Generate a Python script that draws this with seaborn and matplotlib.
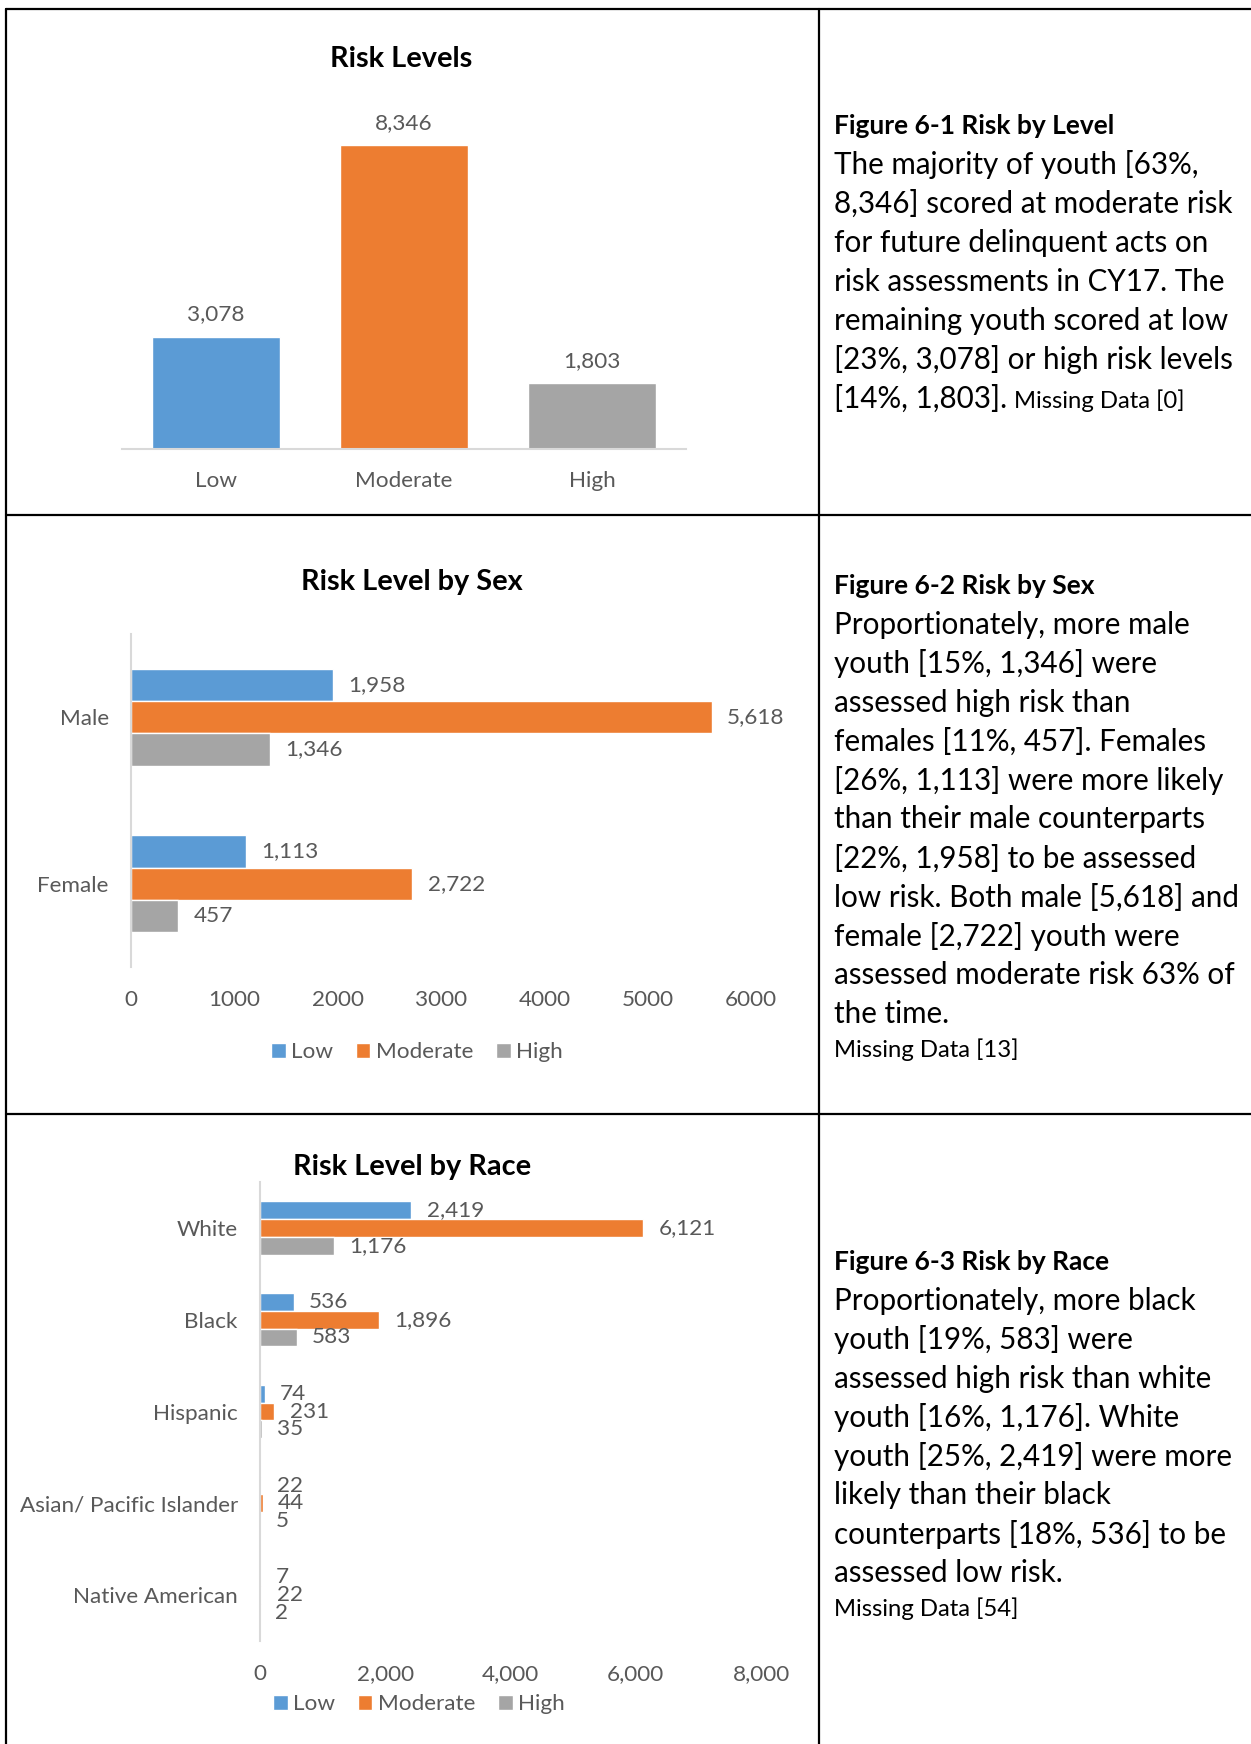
import matplotlib
matplotlib.use("Agg")
import matplotlib.pyplot as plt
from matplotlib.lines import Line2D
import seaborn as sns
import pandas as pd

# ---------------- data ----------------
levels = ["Low", "Moderate", "High"]
level_totals = [3078, 8346, 1803]

sex_groups = ["Male", "Female"]
sex_low = [1958, 1113]
sex_moderate = [5618, 2722]
sex_high = [1346, 457]

race_groups = ["White", "Black", "Hispanic", "Asian/ Pacific Islander", "Native American"]
race_low = [2419, 536, 74, 22, 7]
race_moderate = [6121, 1896, 231, 44, 22]
race_high = [1176, 583, 35, 5, 2]

sex_ticks = [0, 1000, 2000, 3000, 4000, 5000, 6000]
race_ticks = [0, 2000, 4000, 6000, 8000]

colors = ["#5B9BD5", "#ED7D31", "#A5A5A5"]
TXT = "#595959"
AX = "#D9D9D9"

sns.set_style("white")
plt.rcParams["font.family"] = ["Lato", "DejaVu Sans"]

W, H = 1251, 1744
fig = plt.figure(figsize=(W / 100, H / 100), dpi=100)


def rect(l, r, t, b):
    return [l / W, 1 - b / H, (r - l) / W, (b - t) / H]


LBL = 16.2
TITLE = 20.8

# ---------------- panel 1 ----------------
ax1 = fig.add_axes(rect(122, 686, 85, 449))
sns.barplot(x=levels, y=level_totals, hue=levels, palette=colors, order=levels,
            hue_order=levels, width=0.68, saturation=1, legend=False, ax=ax1)
ax1.set_ylim(0, 10000)
ax1.set_xlim(-0.5, 2.5)
for c in ax1.containers:
    ax1.bar_label(c, fmt="{:,.0f}", padding=9, fontsize=LBL, color=TXT)
sns.despine(ax=ax1, left=True, top=True, right=True)
ax1.spines["bottom"].set_color(AX)
ax1.spines["bottom"].set_linewidth(1.5)
ax1.set_yticks([])
ax1.tick_params(axis="x", length=0, pad=16, labelsize=LBL, labelcolor=TXT)
ax1.set_xlabel("")
ax1.set_ylabel("")
fig.text(401 / W, 1 - 59 / H, "Risk Levels", ha="center", va="center",
         fontsize=TITLE, fontweight="bold", color="black")

# ---------------- panel 2 ----------------
df_sex = pd.DataFrame({
    "group": sex_groups * 3,
    "level": ["Low"] * 2 + ["Moderate"] * 2 + ["High"] * 2,
    "value": sex_low + sex_moderate + sex_high,
})
ax2 = fig.add_axes(rect(131, 751, 634, 967))
sns.barplot(data=df_sex, y="group", x="value", hue="level", orient="h",
            order=sex_groups, hue_order=levels, palette=colors, width=0.58,
            saturation=1, ax=ax2)
ax2.set_xlim(0, 6000)
ax2.set_xticks(sex_ticks)
ax2.set_xticklabels([str(t) for t in sex_ticks])
for c in ax2.containers:
    ax2.bar_label(c, fmt="{:,.0f}", padding=11, fontsize=LBL, color=TXT)
sns.despine(ax=ax2, left=False, bottom=True, top=True, right=True)
ax2.spines["left"].set_color(AX)
ax2.spines["left"].set_linewidth(1.5)
ax2.tick_params(axis="both", length=0, labelsize=LBL, labelcolor=TXT)
ax2.tick_params(axis="x", pad=16.5)
ax2.tick_params(axis="y", pad=16)
ax2.set_xlabel("")
ax2.set_ylabel("")
sns.move_legend(ax2, loc="center", bbox_to_anchor=(417 / W, 1 - 1052 / H),
                bbox_transform=fig.transFigure, ncol=3, frameon=False, title=None,
                fontsize=LBL, handlelength=0.65, handleheight=0.65,
                handletextpad=0.25, columnspacing=1.0, labelcolor=TXT)
fig.text(412 / W, 1 - 582 / H, "Risk Level by Sex", ha="center", va="center",
         fontsize=TITLE, fontweight="bold", color="black")

# ---------------- panel 3 ----------------
df_race = pd.DataFrame({
    "group": race_groups * 3,
    "level": ["Low"] * 5 + ["Moderate"] * 5 + ["High"] * 5,
    "value": race_low + race_moderate + race_high,
})
ax3 = fig.add_axes(rect(260, 761, 1182, 1641))
sns.barplot(data=df_race, y="group", x="value", hue="level", orient="h",
            order=race_groups, hue_order=levels, palette=colors, width=0.58,
            saturation=1, ax=ax3)
ax3.set_xlim(0, 8000)
ax3.set_xticks(race_ticks)
ax3.set_xticklabels([f"{t:,}" for t in race_ticks])
for c in ax3.containers:
    ax3.bar_label(c, fmt="{:,.0f}", padding=11, fontsize=LBL, color=TXT)
sns.despine(ax=ax3, left=False, bottom=True, top=True, right=True)
ax3.spines["left"].set_color(AX)
ax3.spines["left"].set_linewidth(1.5)
ax3.tick_params(axis="both", length=0, labelsize=LBL, labelcolor=TXT)
ax3.tick_params(axis="x", pad=16.5)
ax3.tick_params(axis="y", pad=16)
ax3.set_xlabel("")
ax3.set_ylabel("")
sns.move_legend(ax3, loc="center", bbox_to_anchor=(419 / W, 1 - 1704 / H),
                bbox_transform=fig.transFigure, ncol=3, frameon=False, title=None,
                fontsize=LBL, handlelength=0.65, handleheight=0.65,
                handletextpad=0.25, columnspacing=1.0, labelcolor=TXT)
fig.text(412 / W, 1 - 1167 / H, "Risk Level by Race", ha="center", va="center",
         fontsize=TITLE, fontweight="bold", color="black")

# ---------------- table lines ----------------
for y in [9, 515, 1114]:
    fig.add_artist(Line2D([6 / W, 1], [1 - y / H, 1 - y / H], color="black", lw=1.6,
                          transform=fig.transFigure))
for x in [6, 819]:
    fig.add_artist(Line2D([x / W, x / W], [1 - 9 / H, 0], color="black", lw=1.6,
                          transform=fig.transFigure))

# ---------------- right column text ----------------
TX = 834 / W
BODY = 21.3
HEAD = 19.0
SMALL = 17.2
LS = 38.9


def block(y0, header, lines, tail_inline=None, tail_line=None):
    fig.text(TX, 1 - y0 / H, header, ha="left", va="center", fontsize=HEAD,
             fontweight="bold", color="black")
    last = None
    y = y0
    for ln in lines:
        y += LS
        last = fig.text(TX, 1 - y / H, ln, ha="left", va="center", fontsize=BODY,
                        color="black")
    if tail_inline is not None:
        fig.canvas.draw()
        bb = last.get_window_extent()
        fig.text((bb.x1 + 7) / W, (bb.y0 + 0.5 * (bb.y1 - bb.y0) - 2) / H, tail_inline,
                 ha="left", va="center", fontsize=SMALL, color="black")
    if tail_line is not None:
        y += LS * 0.92
        fig.text(TX, 1 - y / H, tail_line, ha="left", va="center", fontsize=SMALL,
                 color="black")


block(126, "Figure 6-1 Risk by Level", [
    "The majority of youth [63%,",
    "8,346] scored at moderate risk",
    "for future delinquent acts on",
    "risk assessments in CY17. The",
    "remaining youth scored at low",
    "[23%, 3,078] or high risk levels",
    "[14%, 1,803].",
], tail_inline="Missing Data [0]")

block(586, "Figure 6-2 Risk by Sex", [
    "Proportionately, more male",
    "youth [15%, 1,346] were",
    "assessed high risk than",
    "females [11%, 457]. Females",
    "[26%, 1,113] were more likely",
    "than their male counterparts",
    "[22%, 1,958] to be assessed",
    "low risk. Both male [5,618] and",
    "female [2,722] youth were",
    "assessed moderate risk 63% of",
    "the time.",
], tail_line="Missing Data [13]")

block(1262, "Figure 6-3 Risk by Race", [
    "Proportionately, more black",
    "youth [19%, 583] were",
    "assessed high risk than white",
    "youth [16%, 1,176]. White",
    "youth [25%, 2,419] were more",
    "likely than their black",
    "counterparts [18%, 536] to be",
    "assessed low risk.",
], tail_line="Missing Data [54]")

fig.savefig("out.png", dpi=100)
